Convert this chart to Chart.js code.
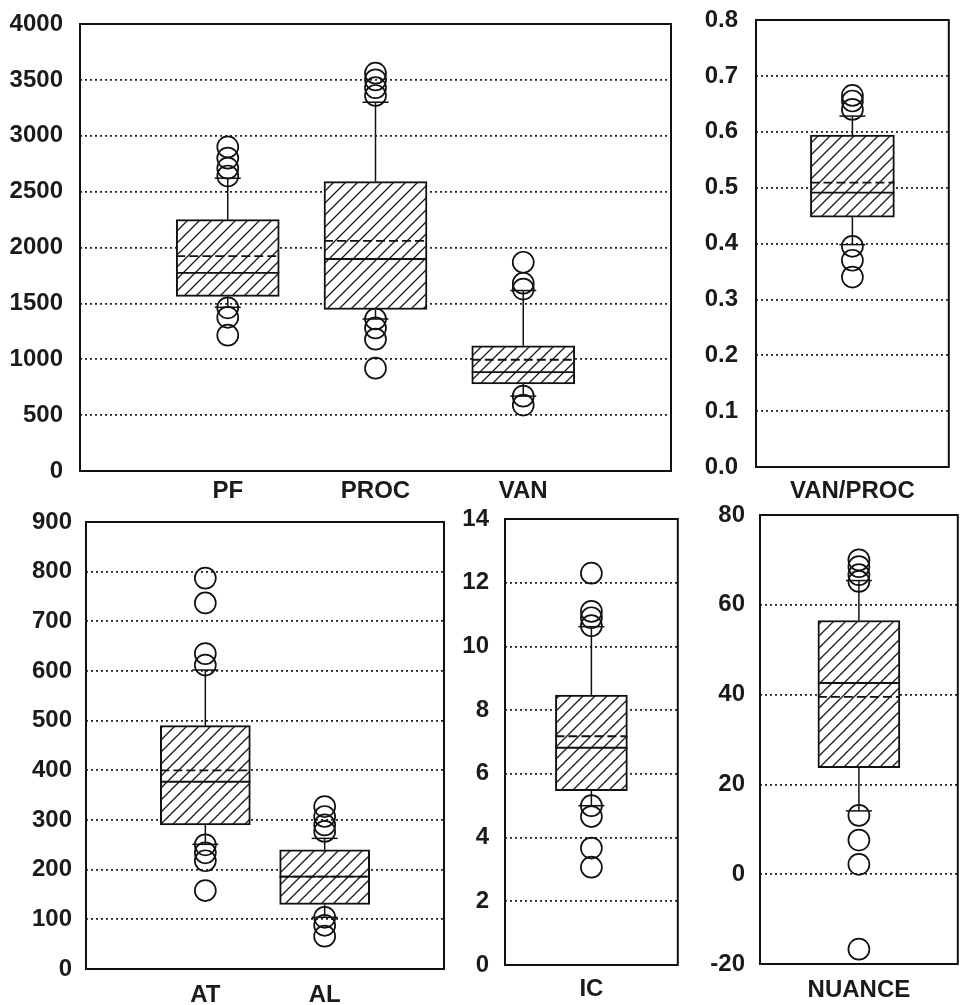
<!DOCTYPE html>
<html><head><meta charset="utf-8">
<script src="https://cdn.jsdelivr.net/npm/chart.js@4.4.1/dist/chart.umd.min.js"></script>
<style>
html,body{margin:0;padding:0;background:#fff;width:961px;height:1005px;overflow:hidden;position:relative;}
canvas{position:absolute;}
</style></head><body>
<canvas id="cA" width="690" height="510" style="left:0px;top:0px"></canvas>
<canvas id="cB" width="271" height="510" style="left:690px;top:0px"></canvas>
<canvas id="cC" width="460" height="500" style="left:0px;top:505px"></canvas>
<canvas id="cD" width="240" height="500" style="left:450px;top:505px"></canvas>
<canvas id="cE" width="280" height="504" style="left:690px;top:501px"></canvas>
<script>
// ---- Panel A: PF / PROC / VAN ----
const catsA = ['PF', 'PROC', 'VAN'];
const q1A = [1562, 1445, 780];
const medA = [1773, 1897, 885];
const meanA = [1923, 2059, 995];
const q3A = [2250, 2590, 1120];
const lowA = [1465, 1360, 670];
const highA = [2620, 3300, 1615];
const outA = [[2900, 2800, 2710, 2640, 1460, 1375, 1215], [3560, 3500, 3430, 3360, 1360, 1280, 1180, 920], [1868, 1680, 1628, 670, 590]];
const yTicksA = [0, 500, 1000, 1500, 2000, 2500, 3000, 3500, 4000];

// ---- Panel B: VAN/PROC ----
const catsB = ['VAN/PROC'];
const q1B = [0.447];
const medB = [0.491];
const meanB = [0.509];
const q3B = [0.594];
const lowB = [0.398];
const highB = [0.628];
const outB = [[0.665, 0.655, 0.64, 0.395, 0.37, 0.34]];
const yTicksB = [0.0, 0.1, 0.2, 0.3, 0.4, 0.5, 0.6, 0.7, 0.8];

// ---- Panel C: AT / AL ----
const catsC = ['AT', 'AL'];
const q1C = [290, 130];
const medC = [377, 186];
const meanC = [400, 186];
const q3C = [490, 240];
const lowC = [251, 104];
const highC = [602, 263];
const outC = [[787, 737, 635, 612, 250, 234, 218, 158], [327, 307, 290, 277, 104, 88, 66]];
const yTicksC = [0, 100, 200, 300, 400, 500, 600, 700, 800, 900];

// ---- Panel D: IC ----
const catsD = ['IC'];
const q1D = [5.47];
const medD = [6.82];
const meanD = [7.18];
const q3D = [8.47];
const lowD = [5.0];
const highD = [10.62];
const outD = [[12.3, 11.1, 10.9, 10.65, 5.0, 4.66, 3.67, 3.07]];
const yTicksD = [0, 2, 4, 6, 8, 10, 12, 14];

// ---- Panel E: NUANCE ----
const catsE = ['NUANCE'];
const q1E = [23.7];
const medE = [42.6];
const meanE = [39.5];
const q3E = [56.5];
const lowE = [14.1];
const highE = [65.4];
const outE = [[70, 68.5, 66.7, 65.2, 13.1, 7.6, 2.2, -16.7]];
const yTicksE = [-20, 0, 20, 40, 60, 80];

Chart.defaults.font.family = "'Liberation Sans', Arial, sans-serif";
Chart.defaults.font.size = 24;
Chart.defaults.font.weight = 'bold';
Chart.defaults.color = '#1b1b1b';

function hatchPattern(ctx) {
  const c = document.createElement('canvas');
  c.width = 12; c.height = 12;
  const g = c.getContext('2d');
  g.fillStyle = '#fff'; g.fillRect(0, 0, 12, 12);
  g.strokeStyle = '#1a1a1a'; g.lineWidth = 1.3;
  g.beginPath();
  g.moveTo(-1, 13); g.lineTo(13, -1);
  g.moveTo(-6, 6); g.lineTo(6, -6);
  g.moveTo(6, 18); g.lineTo(18, 6);
  g.stroke();
  return ctx.createPattern(c, 'repeat');
}

function makePanel(p) {
  const el = document.getElementById(p.id);
  const ctx = el.getContext('2d');
  const yMin = p.yTicks[0], yMax = p.yTicks[p.yTicks.length - 1];
  const extras = {
    id: 'boxExtras',
    afterDatasetsDraw(chart) {
      const c = chart.ctx, xs = chart.scales.x, ys = chart.scales.y;
      const bars = chart.getDatasetMeta(0).data;
      const seg = (x1, y1, x2, y2) => { c.beginPath(); c.moveTo(x1, y1); c.lineTo(x2, y2); c.stroke(); };
      c.save();
      c.strokeStyle = '#111';
      p.cats.forEach((cat, i) => {
        const cx = xs.getPixelForValue(i + 1);
        const hw = bars[i].width / 2;
        const yMean = ys.getPixelForValue(p.mean[i]);
        const yMed = ys.getPixelForValue(p.med[i]);
        c.lineWidth = 1.9;
        c.setLineDash([9, 4]);
        seg(cx - hw, yMean, cx + hw, yMean);
        c.setLineDash([]);
        seg(cx - hw, yMed, cx + hw, yMed);
        const yq1 = ys.getPixelForValue(p.q1[i]), yq3 = ys.getPixelForValue(p.q3[i]);
        const yl = ys.getPixelForValue(p.low[i]), yh = ys.getPixelForValue(p.high[i]);
        c.lineWidth = 1.5;
        seg(cx, yq3, cx, yh); seg(cx - 13, yh, cx + 13, yh);
        seg(cx, yq1, cx, yl); seg(cx - 13, yl, cx + 13, yl);
      });
      const a = chart.chartArea;
      c.lineWidth = 2;
      c.strokeRect(a.left, a.top, a.right - a.left, a.bottom - a.top);
      c.restore();
    }
  };
  return new Chart(el, {
    type: 'bar',
    data: {
      datasets: [
        {
          type: 'bar',
          data: p.cats.map((c, i) => ({ x: i + 1, y: [p.q1[i], p.q3[i]] })),
          backgroundColor: hatchPattern(ctx),
          borderColor: '#111',
          borderWidth: 2,
          borderSkipped: false,
          barThickness: p.bar,
          order: 2
        },
        {
          type: 'scatter',
          data: p.out.flatMap((arr, i) => arr.map(v => ({ x: i + 1, y: v }))),
          pointStyle: 'circle',
          pointRadius: 10.5,
          pointBorderWidth: 1.7,
          pointBorderColor: '#111',
          pointBackgroundColor: 'rgba(0,0,0,0)',
          order: 1
        }
      ]
    },
    options: {
      responsive: false,
      animation: false,
      devicePixelRatio: 1,
      layout: { padding: { top: p.padTop, right: p.padRight, left: 0, bottom: 0 } },
      plugins: { legend: { display: false }, tooltip: { enabled: false } },
      scales: {
        x: {
          type: 'linear', min: 0, max: p.cats.length + 1, offset: false,
          afterBuildTicks: s => { s.ticks = p.cats.map((c, i) => ({ value: i + 1 })); },
          afterFit: s => { s.height = p.xH; s.paddingLeft = 0; s.paddingRight = 0; },
          ticks: { callback: v => p.cats[v - 1], padding: p.xPad, autoSkip: false, maxRotation: 0, minRotation: 0 },
          grid: { display: false, drawTicks: false },
          border: { display: false }
        },
        y: {
          type: 'linear', min: yMin, max: yMax,
          afterBuildTicks: s => { s.ticks = p.yTicks.map(v => ({ value: v })); },
          afterFit: s => { s.width = p.yW; s.paddingTop = 0; s.paddingBottom = 0; },
          ticks: { callback: v => p.fmt(v), padding: p.yPad },
          grid: {
            drawTicks: false, lineWidth: 1.7,
            color: c => (c.tick && (c.tick.value === yMin || c.tick.value === yMax)) ? 'rgba(0,0,0,0)' : '#222'
          },
          border: { display: false, dash: [2, 3] }
        }
      }
    },
    plugins: [extras]
  });
}

const intFmt = v => String(v);
makePanel({ id: 'cA', cats: catsA, q1: q1A, med: medA, mean: meanA, q3: q3A, low: lowA, high: highA, out: outA, yTicks: yTicksA, fmt: intFmt,
  padTop: 24, padRight: 19, yW: 80, xH: 39, yPad: 17, xPad: 6, bar: 103 });
makePanel({ id: 'cB', cats: catsB, q1: q1B, med: medB, mean: meanB, q3: q3B, low: lowB, high: highB, out: outB, yTicks: yTicksB, fmt: v => Number(v).toFixed(1),
  padTop: 20, padRight: 3, yW: 66, xH: 43, yPad: 18, xPad: 10, bar: 84 });
makePanel({ id: 'cC', cats: catsC, q1: q1C, med: medC, mean: meanC, q3: q3C, low: lowC, high: highC, out: outC, yTicks: yTicksC, fmt: intFmt,
  padTop: 17, padRight: 16, yW: 86, xH: 36, yPad: 14, xPad: 12, bar: 90 });
makePanel({ id: 'cD', cats: catsD, q1: q1D, med: medD, mean: meanD, q3: q3D, low: lowD, high: highD, out: outD, yTicks: yTicksD, fmt: intFmt,
  padTop: 14, padRight: 7, yW: 55, xH: 40, yPad: 16, xPad: 10, bar: 72 });
makePanel({ id: 'cE', cats: catsE, q1: q1E, med: medE, mean: meanE, q3: q3E, low: lowE, high: highE, out: outE, yTicks: yTicksE, fmt: intFmt,
  padTop: 14, padRight: 4, yW: 70, xH: 41, yPad: 15, xPad: 12, bar: 82 });
</script>
</body></html>
